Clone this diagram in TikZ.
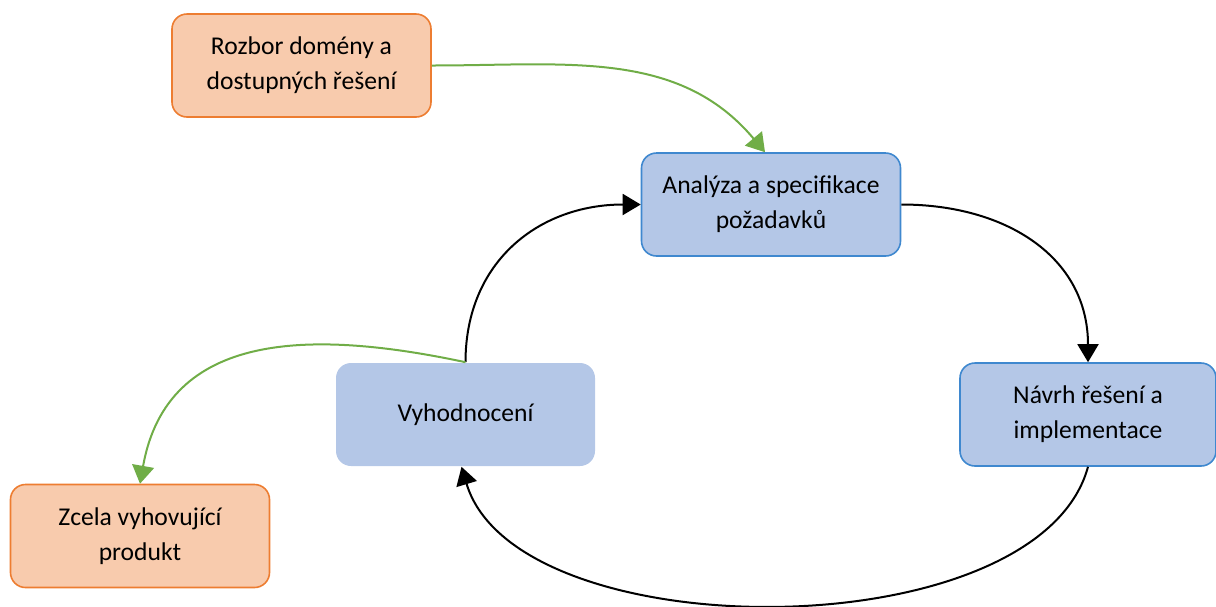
\documentclass[tikz,border=0pt]{standalone}
\usepackage{fontspec}
\setmainfont{Carlito}
\usepackage{xcolor}
\usepackage{tikz}
\usetikzlibrary{arrows.meta}

\definecolor{orfill}{HTML}{F8CBAD}
\definecolor{ordraw}{HTML}{ED7D31}
\definecolor{blfill}{HTML}{B4C7E7}
\definecolor{bldraw}{HTML}{3F88CF}
\definecolor{grline}{HTML}{70AD47}

\begin{document}
\begin{tikzpicture}[x=0.5pt,y=-0.5pt,
  box/.style={rounded corners=7.5pt, minimum width=129.5pt, minimum height=51.5pt,
    align=center, line width=0.8pt, font=\fontsize{12.8}{17.5}\selectfont},
  orbox/.style={box, draw=ordraw, fill=orfill},
  blbox/.style={box, draw=bldraw, fill=blfill},
  cyc/.style={line width=1pt, -{Triangle[length=9pt,width=10.5pt]}},
  side/.style={grline, line width=1pt, -{Triangle[length=9pt,width=11pt]}}]

\useasboundingbox (0,0) rectangle (1216,606);

\node[orbox] (rozbor) at (301.5,65.5) {Rozbor domény a\\dostupných řešení};
\node[blbox] (analyza) at (771,204.5) {Analýza a specifikace\\požadavků};
\node[blbox, minimum width=128pt] (navrh) at (1088,414.5) {Návrh řešení a\\implementace};
\node[box, fill=blfill] (vyhod) at (465.5,414.5) {Vyhodnocení};
\node[orbox] (zcela) at (140,536) {Zcela vyhovující\\produkt};

% cyklus
\draw[cyc] (analyza.east) to[out=0,in=90,looseness=1.1] (navrh.north);
\draw[cyc] (navrh.south) .. controls +(-50,184) and +(55,184) .. ([xshift=-2pt]vyhod.south);
\draw[cyc] (vyhod.north) to[out=90,in=180,looseness=1.1] (analyza.west);

% vstup a vystup
\draw[side] (rozbor.east) to[out=0,in=130] ([xshift=-3pt]analyza.north);
\draw[side] (vyhod.north) to[out=168,in=80,looseness=1.15] (zcela.north);

\end{tikzpicture}
\end{document}
